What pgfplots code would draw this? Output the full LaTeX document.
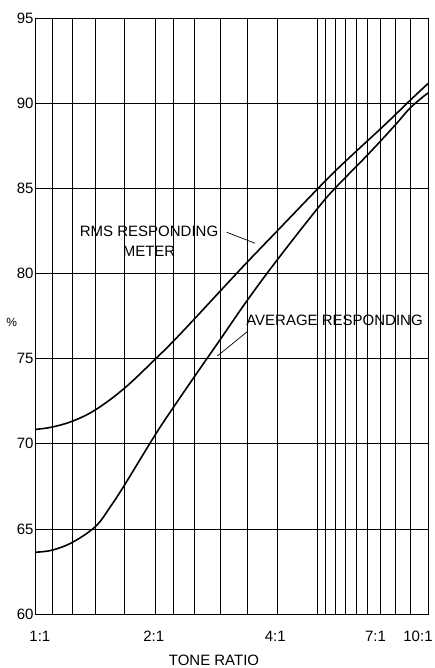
\documentclass[border=0pt]{standalone}
\usepackage{fontspec}
\setmainfont{Liberation Sans}
\usepackage{pgfplots}
\pgfplotsset{compat=1.18}
\begin{document}
\fontsize{15}{18}\selectfont
\begin{tikzpicture}
\begin{axis}[
  name=ax,
  scale only axis,
  width=392.3pt, height=596pt,
  xmode=log, log basis x=10,
  xmin=1, xmax=10, ymin=60, ymax=95,
  xtick={1.102,1.243,1.422,1.682,2.014,2.239,2.532,2.950,3.457,4.129,5.223,5.465,5.794,6.143,6.580,7.021,7.575,8.238,9.035},
  xticklabels={},
  minor x tick num=0,
  extra x ticks={1.025,2,4.08,7.35,9.43},
  extra x tick labels={1:1,2:1,4:1,7:1,10:1},
  extra x tick style={grid=none, major tick length=0pt},
  ytick={60,65,...,95},
  major tick length=0pt,
  minor tick length=0pt,
  xmajorgrids=true, ymajorgrids=true,
  xminorgrids=false,
  major grid style={black, line width=0.7pt},
  axis line style={black, line width=0.9pt},
  tick label style={font=\fontsize{15}{18}\selectfont, inner sep=0pt},
  xticklabel style={anchor=center, yshift=-22pt},
  yticklabel style={anchor=east, xshift=-2pt},
  /pgf/number format/assume math mode=true,
  xlabel={TONE RATIO},
  xlabel style={font=\fontsize{15}{18}\selectfont, at={(rel axis cs:0.4545,0)}, anchor=center, yshift=-46pt, inner sep=0pt},
  ylabel={\%},
  ylabel style={font=\fontsize{12}{14}\selectfont, rotate=-90, at={(rel axis cs:0,0.49)}, anchor=center, xshift=-24pt, inner sep=0pt},
  clip=true,
]
% RMS responding meter
\addplot[black, line width=1.6pt, smooth, tension=0.6] coordinates {
(1.000,70.84) (1.102,70.98) (1.243,71.33) (1.422,72.0) (1.682,73.25)
(2.014,74.95) (2.239,76.0) (2.532,77.3) (2.950,78.95) (3.457,80.65)
(4.129,82.5) (5.223,84.95) (5.794,86.0) (6.580,87.2) (7.575,88.5)
(8.238,89.3) (9.035,90.2) (10,91.15)
};
% Average responding
\addplot[black, line width=1.6pt, smooth, tension=0.6] coordinates {
(1.000,63.63) (1.102,63.75) (1.243,64.22) (1.422,65.15) (1.55,66.3) (1.682,67.55)
(2.014,70.5) (2.239,72.1) (2.532,73.9) (2.950,76.1) (3.457,78.4)
(4.129,80.8) (5.223,83.8) (5.794,85.0) (7.021,86.97) (8.238,88.7)
(9.035,89.75) (10,90.6)
};
\node[font=\fontsize{15}{20.5}\selectfont, align=center, inner sep=0pt] at (axis cs:1.945,81.9) {RMS RESPONDING\\METER};
\node[font=\fontsize{15}{18}\selectfont, inner sep=0pt] at (axis cs:5.777,77.24) {AVERAGE RESPONDING};
\draw[black, line width=0.7pt] (axis cs:3.068,82.42) -- (axis cs:3.623,81.77);
\draw[black, line width=0.7pt] (axis cs:3.462,76.58) -- (axis cs:2.904,75.15);
\end{axis}
\pgfresetboundingbox
\path ([shift={(-35.7pt,-54pt)}]ax.south west) rectangle ([shift={(7pt,18pt)}]ax.north east);
\end{tikzpicture}
\end{document}
